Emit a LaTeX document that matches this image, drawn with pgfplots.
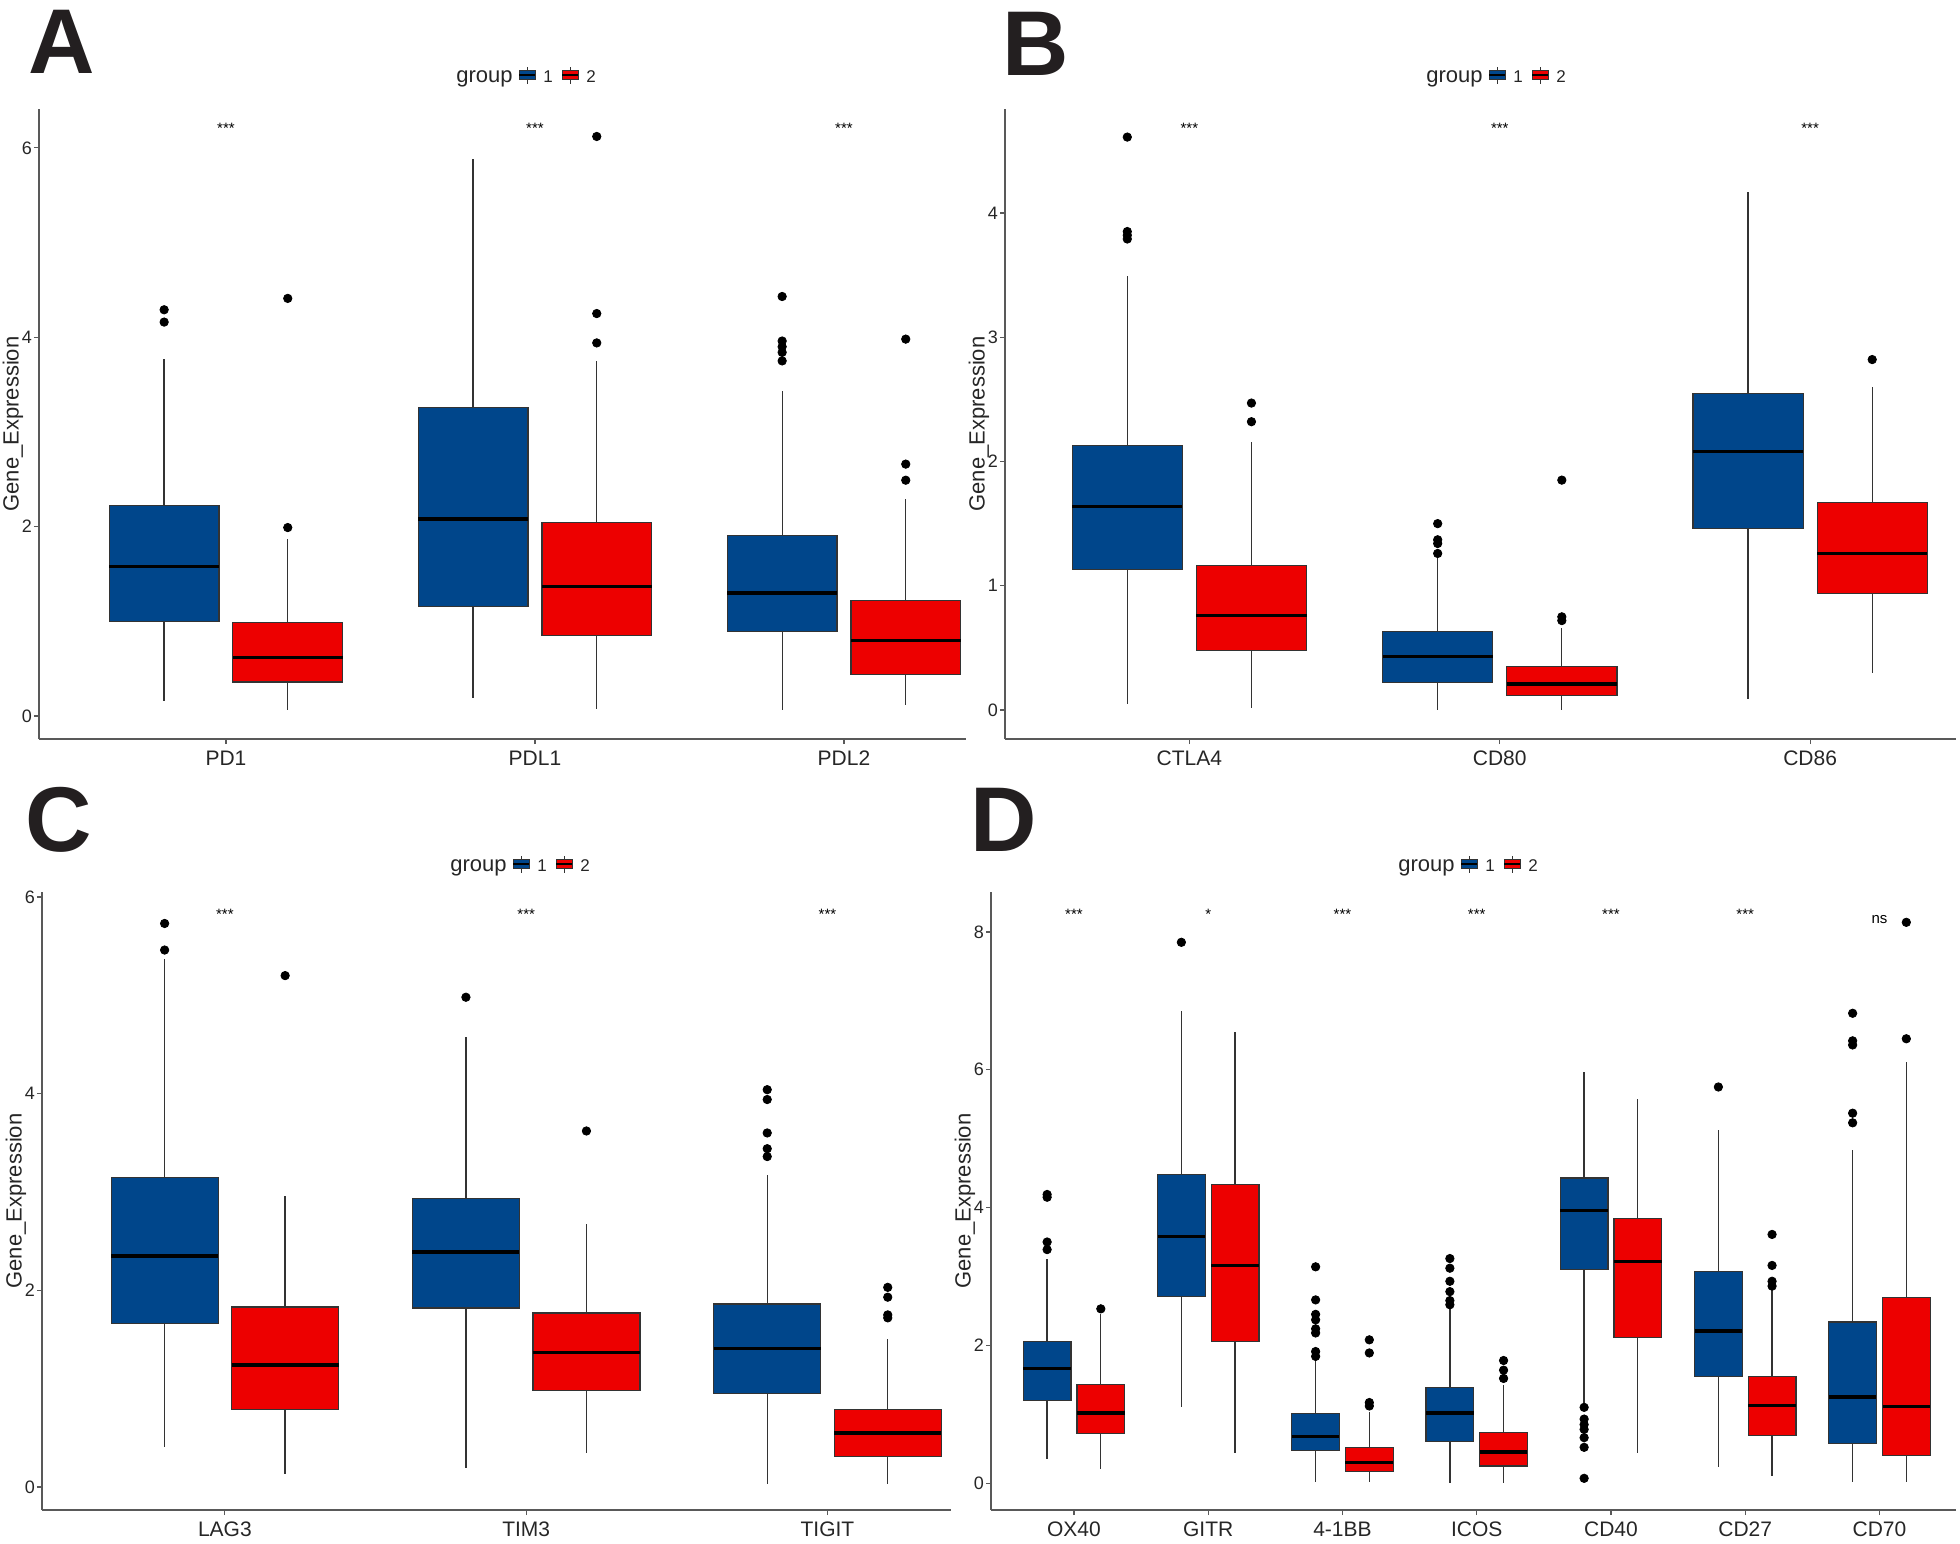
\documentclass[border=0pt]{standalone}
\usepackage{pgfplots}
\pgfplotsset{compat=1.18}
\usepgfplotslibrary{statistics}
\usepackage{fontspec}
\setmainfont{Liberation Sans}

\definecolor{g1}{HTML}{00468B}
\definecolor{g2}{HTML}{ED0000}
\definecolor{letter}{HTML}{231F20}

\pgfplotsset{
  panel/.style={
    scale only axis, clip=false,
    axis x line=bottom, axis y line=left,
    axis line style={-, draw=black!65, line width=0.7pt},
    tick style={draw=black!65, line width=0.6pt},
    tick align=outside, major tick length=2.5pt,
    xtick pos=bottom, ytick pos=left,
    xticklabel style={font=\fontsize{10.5}{12}\selectfont, text=black!85},
    yticklabel style={font=\fontsize{9}{10}\selectfont, text=black!85, xshift=2.5pt},
    ylabel={Gene\_Expression},
    every axis y label/.style={at={([xshift=-13pt]axis description cs:0,0.5)}, rotate=90,
      anchor=center, font=\fontsize{11}{13}\selectfont, text=black!85},
    boxplot/draw direction=y,
    boxplot/box extend=0.355,
    boxplot/whisker extend=0,
    boxplot/every median/.style={draw=black, line width=1.7pt},
    boxplot/every whisker/.style={draw=black!80, line width=0.65pt},
  },
  b1/.style={boxplot/every box/.style={fill=g1, draw=black!80, line width=0.6pt},
    mark=*, mark size=2.1pt, mark options={fill=black, draw=black}},
  b2/.style={boxplot/every box/.style={fill=g2, draw=black!80, line width=0.6pt},
    mark=*, mark size=2.1pt, mark options={fill=black, draw=black}},
}
\tikzset{sig/.style={font=\fontsize{7.5}{9}\selectfont}}

% #1 style, #2 position, #3 lower whisker, #4 lower quartile, #5 median,
% #6 upper quartile, #7 upper whisker, #8 outliers
\newcommand{\bp}[8]{%
  \addplot[#1, boxplot prepared={draw position=#2, lower whisker=#3,
    lower quartile=#4, median=#5, upper quartile=#6, upper whisker=#7}]
    coordinates {#8};}

% legend: x0 = left edge of first key, y offset of the row
\newcommand{\grpkey}[3]{%
  \draw[black!80, line width=0.5pt] (#1+8,67+#2) -- (#1+8,84+#2);
  \filldraw[fill=#3, draw=black!80, line width=0.5pt] (#1,70.5+#2) rectangle (#1+16,79.5+#2);
  \draw[black, line width=0.9pt] (#1,75+#2) -- (#1+16,75+#2);}
\newcommand{\grplegend}[2]{%
  \node[anchor=base east, inner sep=0, font=\fontsize{11}{13}\selectfont, text=black!85] at (#1-6,82+#2) {group};
  \grpkey{#1}{#2}{g1}
  \node[anchor=base west, inner sep=0, font=\fontsize{8.5}{10}\selectfont, text=black!85] at (#1+24,82+#2) {1};
  \grpkey{#1+43}{#2}{g2}
  \node[anchor=base west, inner sep=0, font=\fontsize{8.5}{10}\selectfont, text=black!85] at (#1+67,82+#2) {2};}

\begin{document}
\begin{tikzpicture}
\useasboundingbox (0pt,0pt) rectangle (980pt,-771.5pt);

% ---------------- A ----------------
\begin{axis}[panel, at={(19.5pt,-369.5pt)}, anchor=south west,
  width=463.5pt, height=315pt,
  xmin=0.395, xmax=3.395, ymin=-0.243, ymax=6.41,
  xtick={1,2,3}, xticklabels={PD1,PDL1,PDL2},
  ytick={0,2,4,6}, yticklabels={0,2,4,6}]
\bp{b1}{0.8}{0.16}{1.00}{1.58}{2.22}{3.77}{(0,4.29)(0,4.16)}
\bp{b2}{1.2}{0.06}{0.36}{0.62}{0.99}{1.87}{(0,1.99)(0,4.41)}
\bp{b1}{1.8}{0.19}{1.16}{2.08}{3.26}{5.88}{}
\bp{b2}{2.2}{0.07}{0.85}{1.37}{2.04}{3.75}{(0,3.94)(0,4.25)(0,6.12)}
\bp{b1}{2.8}{0.06}{0.89}{1.30}{1.91}{3.43}{(0,4.43)(0,3.96)(0,3.90)(0,3.84)(0,3.75)}
\bp{b2}{3.2}{0.12}{0.44}{0.80}{1.22}{2.29}{(0,2.66)(0,2.49)(0,3.98)}
\node[sig] at (axis cs:1,6.21) {***};
\node[sig] at (axis cs:2,6.21) {***};
\node[sig] at (axis cs:3,6.21) {***};
\end{axis}

% ---------------- B ----------------
\begin{axis}[panel, at={(502.5pt,-369.5pt)}, anchor=south west,
  width=475.5pt, height=315pt,
  xmin=0.406, xmax=3.47, ymin=-0.233, ymax=4.836,
  xtick={1,2,3}, xticklabels={CTLA4,CD80,CD86},
  ytick={0,1,2,3,4}, yticklabels={0,1,2,3,4}]
\bp{b1}{0.8}{0.05}{1.13}{1.64}{2.13}{3.49}{(0,4.61)(0,3.85)(0,3.82)(0,3.79)}
\bp{b2}{1.2}{0.02}{0.48}{0.76}{1.16}{2.16}{(0,2.32)(0,2.47)}
\bp{b1}{1.8}{0.00}{0.22}{0.43}{0.63}{1.24}{(0,1.50)(0,1.37)(0,1.34)(0,1.26)}
\bp{b2}{2.2}{0.00}{0.12}{0.21}{0.35}{0.66}{(0,0.75)(0,0.72)(0,1.85)}
\bp{b1}{2.8}{0.09}{1.46}{2.08}{2.55}{4.17}{}
\bp{b2}{3.2}{0.30}{0.94}{1.26}{1.67}{2.60}{(0,2.82)}
\node[sig] at (axis cs:1,4.68) {***};
\node[sig] at (axis cs:2,4.68) {***};
\node[sig] at (axis cs:3,4.68) {***};
\end{axis}

% ---------------- C ----------------
\begin{axis}[panel, at={(21pt,-755pt)}, anchor=south west,
  width=454.5pt, height=309pt,
  xmin=0.393, xmax=3.41, ymin=-0.234, ymax=6.05,
  xtick={1,2,3}, xticklabels={LAG3,TIM3,TIGIT},
  ytick={0,2,4,6}, yticklabels={0,2,4,6}]
\bp{b1}{0.8}{0.41}{1.66}{2.35}{3.15}{5.37}{(0,5.73)(0,5.46)}
\bp{b2}{1.2}{0.13}{0.79}{1.24}{1.83}{2.96}{(0,5.20)}
\bp{b1}{1.8}{0.19}{1.82}{2.39}{2.93}{4.58}{(0,4.98)}
\bp{b2}{2.2}{0.35}{0.98}{1.37}{1.77}{2.67}{(0,3.62)}
\bp{b1}{2.8}{0.03}{0.95}{1.41}{1.86}{3.17}{(0,4.04)(0,3.94)(0,3.60)(0,3.44)(0,3.36)}
\bp{b2}{3.2}{0.03}{0.31}{0.55}{0.79}{1.50}{(0,2.03)(0,1.93)(0,1.75)(0,1.72)}
\node[sig] at (axis cs:1,5.82) {***};
\node[sig] at (axis cs:2,5.82) {***};
\node[sig] at (axis cs:3,5.82) {***};
\end{axis}

% ---------------- D ----------------
\begin{axis}[panel, at={(495.5pt,-755pt)}, anchor=south west,
  width=482.5pt, height=309pt,
  xmin=0.382, xmax=7.57, ymin=-0.39, ymax=8.58,
  xtick={1,2,3,4,5,6,7}, xticklabels={OX40,GITR,4-1BB,ICOS,CD40,CD27,CD70},
  ytick={0,2,4,6,8}, yticklabels={0,2,4,6,8}]
\bp{b1}{0.8}{0.35}{1.20}{1.66}{2.06}{3.25}{(0,4.19)(0,4.15)(0,3.50)(0,3.39)}
\bp{b2}{1.2}{0.21}{0.72}{1.02}{1.43}{2.45}{(0,2.53)}
\bp{b1}{1.8}{1.10}{2.71}{3.58}{4.48}{6.86}{(0,7.85)}
\bp{b2}{2.2}{0.44}{2.06}{3.16}{4.33}{6.55}{}
\bp{b1}{2.8}{0.02}{0.47}{0.68}{1.01}{1.80}{(0,3.14)(0,2.66)(0,2.45)(0,2.37)(0,2.24)(0,2.18)(0,1.91)(0,1.84)}
\bp{b2}{3.2}{0.01}{0.17}{0.30}{0.52}{1.04}{(0,2.08)(0,1.89)(0,1.17)(0,1.12)}
\bp{b1}{3.8}{0.00}{0.60}{1.02}{1.39}{2.54}{(0,3.26)(0,3.12)(0,2.93)(0,2.78)(0,2.65)(0,2.59)}
\bp{b2}{4.2}{0.00}{0.25}{0.45}{0.73}{1.43}{(0,1.78)(0,1.64)(0,1.52)}
\bp{b1}{4.8}{1.16}{3.10}{3.96}{4.43}{5.97}{(0,1.10)(0,0.93)(0,0.85)(0,0.78)(0,0.66)(0,0.52)(0,0.07)}
\bp{b2}{5.2}{0.44}{2.11}{3.22}{3.84}{5.57}{}
\bp{b1}{5.8}{0.23}{1.55}{2.21}{3.07}{5.12}{(0,5.75)}
\bp{b2}{6.2}{0.11}{0.69}{1.13}{1.55}{2.81}{(0,3.61)(0,3.16)(0,2.93)(0,2.86)}
\bp{b1}{6.8}{0.02}{0.57}{1.25}{2.34}{4.84}{(0,6.82)(0,6.42)(0,6.36)(0,5.37)(0,5.23)}
\bp{b2}{7.2}{0.01}{0.40}{1.11}{2.70}{6.11}{(0,6.45)(0,8.14)}
\node[sig] at (axis cs:1,8.26) {***};
\node[sig] at (axis cs:2,8.26) {*};
\node[sig] at (axis cs:3,8.26) {***};
\node[sig] at (axis cs:4,8.26) {***};
\node[sig] at (axis cs:5,8.26) {***};
\node[sig] at (axis cs:6,8.26) {***};
\node[sig] at (axis cs:7,8.18) {ns};
\end{axis}

% ---------------- letters and legends ----------------
\begin{scope}[x=0.5pt, y=-0.5pt]
\node[font=\fontsize{46}{50}\selectfont\bfseries, text=letter, inner sep=0] at (62,42) {A};
\node[font=\fontsize{46}{50}\selectfont\bfseries, text=letter, inner sep=0] at (1036,44) {B};
\node[font=\fontsize{46}{50}\selectfont\bfseries, text=letter, inner sep=0] at (59,820) {C};
\node[font=\fontsize{46}{50}\selectfont\bfseries, text=letter, inner sep=0] at (1004,820) {D};
\grplegend{519}{0}
\grplegend{1489}{0}
\grplegend{513}{789}
\grplegend{1461}{789}
\end{scope}
\end{tikzpicture}
\end{document}
